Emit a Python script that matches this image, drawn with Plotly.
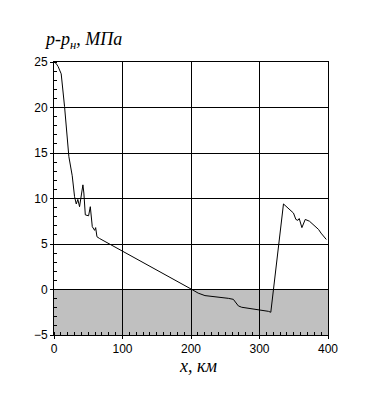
import plotly.graph_objects as go

x_km = [0, 3, 6, 9, 10.5, 15.4, 21.7, 26.6, 27.5, 30, 32.5, 34.8, 37.3, 39.8, 42.2, 43.6,
        45.7, 50.5, 53, 55.9, 59.3, 60.8, 62.7, 66.6, 95.9, 200.9, 210.5, 220.4, 254.5,
        261.8, 269.1, 274, 313, 316.5, 335, 349.6, 353.1, 356, 358, 361.9, 366.8, 373,
        386.2, 389.8, 397.5]
dp = [25, 24.85, 24.5, 24.0, 23.7, 20.1, 14.6, 12.5, 11.6, 10.2, 9.4, 9.9, 9.1, 10.6, 11.5,
      10.6, 8.2, 8.1, 9.1, 6.9, 6.5, 6.8, 5.8, 5.6, 4.4, 0.02, -0.4, -0.67, -0.97,
      -1.08, -1.8, -1.95, -2.4, -2.5, 9.4, 8.4, 7.7, 7.6, 7.8, 6.8, 7.7, 7.5,
      6.6, 6.2, 5.5]

x_ticks = [0, 100, 200, 300, 400]
y_ticks = [-5, 0, 5, 10, 15, 20, 25]

fig = go.Figure()
fig.add_trace(go.Scatter(x=x_km, y=dp, mode="lines",
                         line=dict(color="black", width=1), showlegend=False,
                         hoverinfo="skip"))

fig.add_shape(type="rect", xref="x", yref="y", x0=0, x1=400, y0=-5, y1=0,
              fillcolor="#c0c0c0", line=dict(width=0), layer="below")

tickfont = dict(family="Liberation Sans, Arial", size=12, color="black")
fig.update_xaxes(range=[0, 400], tickvals=x_ticks, ticks="outside", ticklen=3,
                 tickcolor="black", showgrid=True, gridcolor="black", gridwidth=1,
                 showline=True, linecolor="black", linewidth=1, mirror=True,
                 zeroline=False, tickfont=tickfont,
                 minor=dict(dtick=10, ticks="inside", ticklen=3, tickcolor="black",
                            showgrid=False),
                 title=None)
fig.update_yaxes(range=[-5, 25], tickvals=y_ticks, ticks="outside", ticklen=3,
                 tickcolor="black", showgrid=True, gridcolor="black", gridwidth=1,
                 showline=True, linecolor="black", linewidth=1, mirror=True,
                 zeroline=False, tickfont=tickfont,
                 minor=dict(dtick=1, ticks="inside", ticklen=3, tickcolor="black",
                            showgrid=False),
                 title=None)

fig.add_annotation(text="<i>p-p<sub>н</sub>, МПа</i>", xref="paper", yref="paper",
                   x=-0.044, y=1.08, xanchor="left", yanchor="middle", showarrow=False,
                   font=dict(family="Liberation Serif, Times New Roman", size=18, color="black"))
fig.add_annotation(text="<i>x, км</i>", xref="paper", yref="paper",
                   x=0.524, y=-0.113, xanchor="center", yanchor="middle", showarrow=False,
                   font=dict(family="Liberation Serif, Times New Roman", size=18, color="black"))

fig.update_layout(width=389, height=407, margin=dict(l=46, r=69, t=54, b=80),
                  plot_bgcolor="white", paper_bgcolor="white", showlegend=False)

fig.write_html("out.html")
